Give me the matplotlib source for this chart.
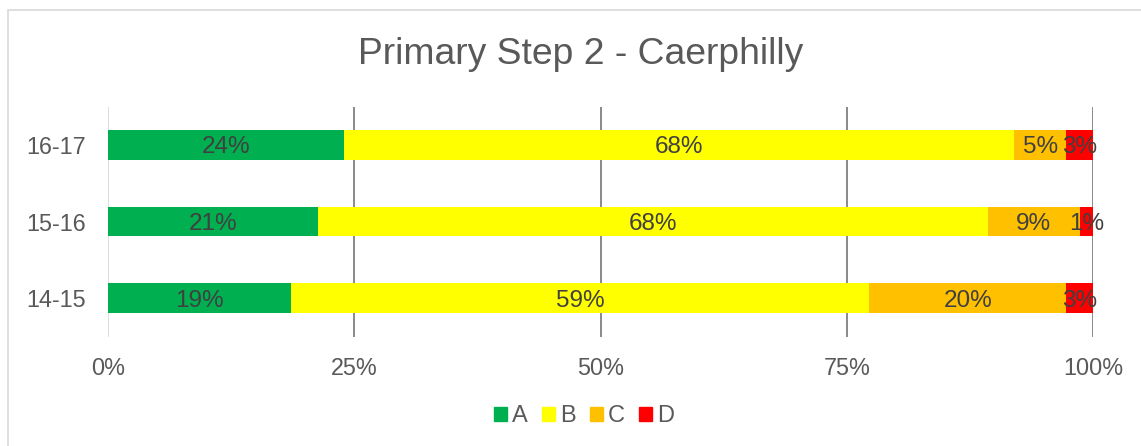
import matplotlib
matplotlib.use("Agg")
import matplotlib.pyplot as plt
from matplotlib.patches import Rectangle
import numpy as np

plt.rcParams['font.family'] = ['Liberation Sans', 'DejaVu Sans']

years = ["14-15", "15-16", "16-17"]
series_names = ["A", "B", "C", "D"]
A = [18.6, 21.3, 24.0]
B = [58.7, 68.0, 68.0]
C = [20.0, 9.4, 5.3]
D = [2.7, 1.3, 2.7]
labels_A = ["19%", "21%", "24%"]
labels_B = ["59%", "68%", "68%"]
labels_C = ["20%", "9%", "5%"]
labels_D = ["3%", "1%", "3%"]
colors = ["#00B050", "#FFFF00", "#FFC000", "#FF0000"]
ticks = [0, 25, 50, 75, 100]
tick_labels = ["0%", "25%", "50%", "75%", "100%"]

W, H = 1141, 446
fig = plt.figure(figsize=(W / 100, H / 100), dpi=100)
top_px, bot_px = 106.5, 336.5
ax = fig.add_axes([108 / W, 1 - bot_px / H, (1093 - 108) / W, (bot_px - top_px) / H])

# chart border (top and left visible)
fig.patches.append(Rectangle((8 / W, -0.1), 1.2, 1 - 10 / H + 0.1, transform=fig.transFigure,
                             fill=False, edgecolor="#D9D9D9", linewidth=1.2, zorder=0))

ypos = np.arange(len(years))
data = [A, B, C, D]
labs = [labels_A, labels_B, labels_C, labels_D]
left = np.zeros(len(years))
for vals, col, name, lab in zip(data, colors, series_names, labs):
    vals = np.array(vals)
    ax.barh(ypos, vals, left=left, height=0.39, color=col, label=name, zorder=3)
    for i, (l, v) in enumerate(zip(left, vals)):
        ax.text(l + v / 2, ypos[i], lab[i], ha="center", va="center_baseline",
                fontsize=17.5, color="#404040", zorder=4)
    left = left + vals

ax.set_xlim(0, 100)
ax.set_ylim(-0.5, 2.5)
ax.set_yticks(ypos)
ax.set_yticklabels(years, fontsize=16.8, color="#595959")
ax.set_xticks(ticks)
ax.set_xticklabels(tick_labels, fontsize=16.8, color="#595959")
ax.tick_params(axis="both", length=0)
ax.tick_params(axis="x", pad=15)
ax.tick_params(axis="y", pad=16)
for s in ax.spines.values():
    s.set_visible(False)
for t in ticks[1:]:
    ax.axvline(t, color="#808080", linewidth=1.3, zorder=1)
ax.axvline(0, color="#D9D9D9", linewidth=1.3, zorder=1)

fig.text(581 / W, 1 - 54 / H, "Primary Step 2 - Caerphilly", ha="center", va="center",
         fontsize=26.8, color="#595959")

handles = [Rectangle((0, 0), 1, 1, color=c) for c in colors]
fig.legend(handles, series_names, loc="center", bbox_to_anchor=(584 / W, 1 - 416 / H),
           ncol=4, frameon=False, fontsize=17, labelcolor="#595959",
           handlelength=0.55, handleheight=0.55, handletextpad=0.21, columnspacing=0.6)

fig.savefig("out.png", dpi=100)
